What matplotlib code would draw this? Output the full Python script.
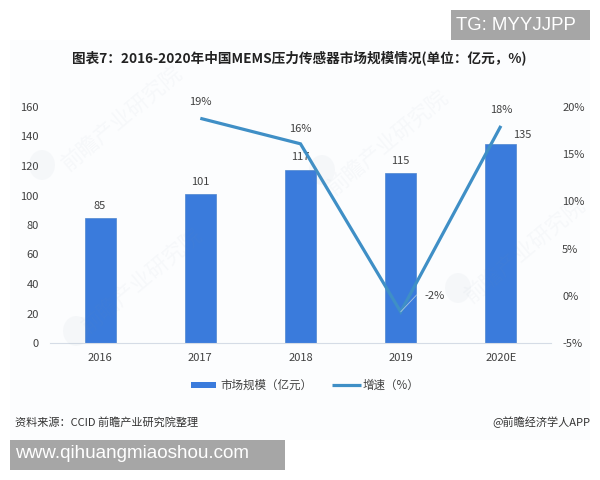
import matplotlib
matplotlib.use("Agg")
import matplotlib.pyplot as plt
from matplotlib.patches import Rectangle, Ellipse
from matplotlib.lines import Line2D

CJK = ['Noto Sans CJK SC', 'DejaVu Sans']
plt.rcParams['font.family'] = CJK

categories = ['2016', '2017', '2018', '2019', '2020E']
market_size = [85, 101, 117, 115, 135]
growth_years = ['2017', '2018', '2019', '2020E']
growth = [18.8, 16.1, -1.7, 18.0]
growth_labels = ['19%', '16%', '-2%', '18%']
left_ticks = [0, 20, 40, 60, 80, 100, 120, 140, 160]
right_ticks = [-5, 0, 5, 10, 15, 20]

W, H = 600, 480
BLUE = '#3a7bdc'
LINE = '#3f8fc6'
TXT = '#404040'
px = 0.72  # points per pixel at dpi 100

fig = plt.figure(figsize=(W/100, H/100), dpi=100, facecolor='white')


def fx(v):
    return v / W


def fy(v):
    return 1 - v / H


def frect(x0, y0, x1, y1, color, z):
    fig.add_artist(Rectangle((fx(x0), fy(y1)), (x1-x0)/W, (y1-y0)/H,
                             transform=fig.transFigure, facecolor=color,
                             edgecolor='none', zorder=z))


# very light page band behind the chart
frect(10, 40, 590, 440, '#fcfdfe', -5)

L, R, T, B = 50, 551, 107, 343
ax = fig.add_axes([L/W, 1-B/H, (R-L)/W, (B-T)/H], facecolor='none')
x = list(range(len(categories)))
ax.bar(x, market_size, width=0.31, color=BLUE, edgecolor='#4f86cf', linewidth=0.5, zorder=2)
ax.set_xlim(-0.5, 4.5)
ax.set_ylim(0, 160)
ax.set_xticks(x, categories)
ax.set_yticks(left_ticks)
ax.tick_params(axis='both', length=0, labelsize=8, labelcolor=TXT)
ax.tick_params(axis='x', pad=7)
ax.tick_params(axis='y', pad=8)
for s in ['top', 'left', 'right']:
    ax.spines[s].set_visible(False)
ax.spines['bottom'].set_color('#d5dce6')

bar_offsets = [(0, 12), (0, 12), (0, 13), (0, 12), (21, 9)]
for xi, v, (dx, dy) in zip(x, market_size, bar_offsets):
    ax.annotate(str(v), (xi, v), xytext=(dx*px, dy*px), textcoords='offset points',
                ha='center', va='center', fontsize=8, color=TXT, zorder=2.5)

ax2 = ax.twinx()
ax2.set_ylim(-5, 20)
ax2.set_yticks(right_ticks, [f'{t}%' for t in right_ticks])
ax2.tick_params(axis='y', length=0, labelsize=8, labelcolor=TXT, pad=8)
for s in ax2.spines.values():
    s.set_visible(False)
gx = [categories.index(c) for c in growth_years]
ax2.plot(gx, growth, color=LINE, lw=2.3, zorder=3, solid_joinstyle='miter',
         solid_capstyle='butt')

label_offsets = [(0, 16), (0, 15), (34, 16), (0, 16)]
for xi, g, lab, (dx, dy) in zip(gx, growth, growth_labels, label_offsets):
    ax2.annotate(lab, (xi, g), xytext=(dx*px, dy*px), textcoords='offset points',
                 ha='center', va='center', fontsize=8, color=TXT)
# leader line of the -2% label
i19 = growth_years.index('2019')
ax2.annotate('', (gx[i19], growth[i19]), xytext=(16*px, 17*px), textcoords='offset points',
             arrowprops=dict(arrowstyle='-', color='#a9c6e0', lw=0.6, shrinkA=0, shrinkB=0))

# title
fig.text(fx(299), fy(58), '图表7：2016-2020年中国MEMS压力传感器市场规模情况(单位：亿元，%)',
         ha='center', va='center', fontsize=9.8, fontweight='bold', color='#222222')

# legend
frect(191, 382, 216, 388, BLUE, 4)
fig.text(fx(220), fy(385), '市场规模（亿元）', fontsize=8.3, va='center', color=TXT)
fig.add_artist(Line2D([fx(332), fx(361)], [fy(385)]*2, color=LINE, lw=2.3,
                      solid_capstyle='butt'))
fig.text(fx(363), fy(385), '增速（%）', fontsize=8.3, va='center', color=TXT)

# footer
fig.text(fx(15), fy(422.5), '资料来源：CCID 前瞻产业研究院整理', fontsize=8, va='center', color='#333333')
fig.text(fx(590), fy(422.5), '@前瞻经济学人APP', fontsize=8, va='center', ha='right', color='#333333')

# faint watermarks
wm_color = '#7f93ab'
for cx, cy, rot in [(122, 118, 40), (142, 280, 40), (388, 142, 40), (525, 250, 40)]:
    fig.text(fx(cx), fy(cy), '前瞻产业研究院', rotation=rot, rotation_mode='anchor',
             ha='center', va='center', fontsize=15.5, color=wm_color, alpha=0.05, zorder=3)
for cx, cy in [(42, 165), (76, 331), (322, 170), (458, 288)]:
    fig.add_artist(Ellipse((fx(cx), fy(cy)), 26/W, 30/H, angle=0, transform=fig.transFigure,
                           facecolor=wm_color, edgecolor='none', alpha=0.05, zorder=3))

# overlay boxes
frect(10, 440, 285, 470, '#a6a6a6', 5)
fig.text(fx(15), fy(454), 'www.qihuangmiaoshou.com', fontsize=13.6, va='center',
         family='Liberation Sans', color='white', zorder=6)
frect(451, 10, 590, 40, '#a6a6a6', 5)
fig.text(fx(456), fy(25), 'TG: MYYJJPP', fontsize=13.4, va='center',
         family='Liberation Sans', color='white', zorder=6)

fig.savefig('out.png', dpi=100)
